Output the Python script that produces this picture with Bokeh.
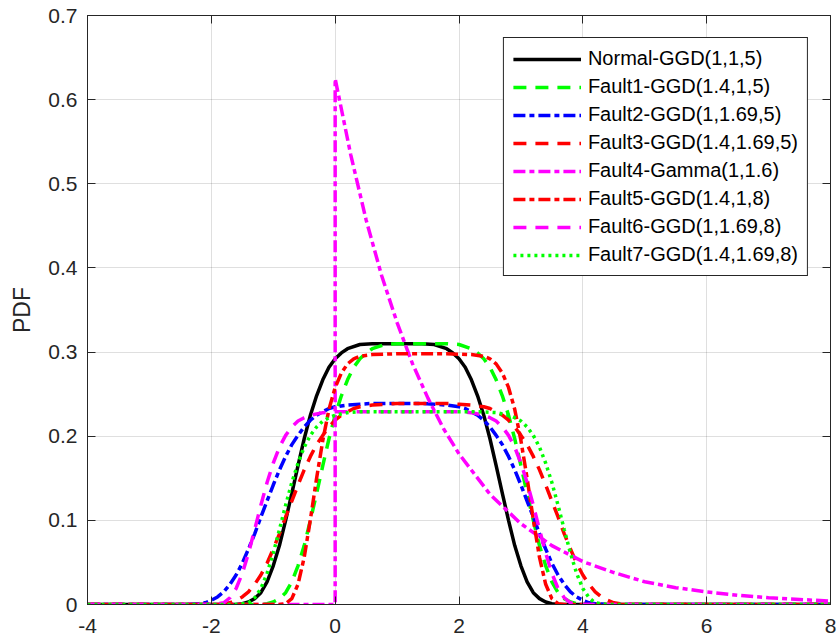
from bokeh.plotting import figure
from bokeh.models import Range1d, LinearAxis, Legend, LegendItem, FixedTicker, CustomJSTickFormatter
from bokeh.embed import file_html
from bokeh.resources import INLINE

# ---- tick definitions ----
x_ticks = [-4, -2, 0, 2, 4, 6, 8]
x_tick_labels = ["-4", "-2", "0", "2", "4", "6", "8"]
y_ticks = [0, 0.1, 0.2, 0.3, 0.4, 0.5, 0.6, 0.7]
y_tick_labels = ["0", "0.1", "0.2", "0.3", "0.4", "0.5", "0.6", "0.7"]

# ---- series ----
normal_x = [-4, -1.6, -1.5, -1.4, -1.3, -1.2, -1.1, -1.0, -0.9, -0.8, -0.7, -0.6, -0.5, -0.4, -0.3, -0.2, -0.1, 0.0,
            0.1, 0.2, 0.4, 0.6, 1.0, 1.4, 1.6, 1.8, 1.9, 2.0, 2.1, 2.2, 2.3, 2.4, 2.5, 2.6, 2.7, 2.8, 2.9, 3.0,
            3.1, 3.2, 3.3, 3.4, 3.5, 3.6, 8]
normal_y = [0, 0.000, 0.001, 0.003, 0.007, 0.014, 0.027, 0.046, 0.070, 0.100, 0.132, 0.165, 0.197, 0.225, 0.248, 0.267,
            0.282, 0.292, 0.299, 0.304, 0.309, 0.310, 0.310, 0.310, 0.309, 0.304, 0.299, 0.292, 0.282, 0.267, 0.248,
            0.225, 0.197, 0.165, 0.132, 0.100, 0.070, 0.046, 0.027, 0.014, 0.007, 0.003, 0.001, 0.000, 0]

fault1_x = [-4, -1.2, -1.1, -1.0, -0.9, -0.8, -0.7, -0.6, -0.5, -0.4, -0.3, -0.2, -0.1, 0.0, 0.1, 0.2, 0.3, 0.4,
            0.5, 0.6, 0.8, 1.0, 1.4, 1.8, 2.0, 2.2, 2.3, 2.4, 2.5, 2.6, 2.7, 2.8, 2.9, 3.0, 3.1, 3.2, 3.3, 3.4,
            3.5, 3.6, 3.7, 3.8, 3.9, 4.0, 8]
fault1_y = [0, 0.000, 0.001, 0.003, 0.007, 0.014, 0.027, 0.046, 0.070, 0.100, 0.132, 0.165, 0.197, 0.225, 0.248, 0.267,
            0.282, 0.292, 0.299, 0.304, 0.309, 0.310, 0.310, 0.310, 0.309, 0.304, 0.299, 0.292, 0.282, 0.267, 0.248,
            0.225, 0.197, 0.165, 0.132, 0.100, 0.070, 0.046, 0.027, 0.014, 0.007, 0.003, 0.001, 0.000, 0]

fault2_x = [-4, -2.4, -2.2, -2.1, -2.0, -1.9, -1.8, -1.7, -1.6, -1.5, -1.4, -1.3, -1.2, -1.1, -1.0, -0.9, -0.8, -0.7,
            -0.6, -0.5, -0.4, -0.3, -0.2, -0.1, 0.0, 0.2, 0.4, 0.6, 1.0, 1.4, 1.6, 1.8, 2.0, 2.1, 2.2, 2.3, 2.4,
            2.5, 2.6, 2.7, 2.8, 2.9, 3.0, 3.1, 3.2, 3.3, 3.4, 3.5, 3.6, 3.7, 3.8, 3.9, 4.0, 4.1, 4.2, 4.4, 8]
fault2_y = [0, 0.000, 0.001, 0.002, 0.005, 0.009, 0.015, 0.024, 0.035, 0.049, 0.066, 0.084, 0.104, 0.123, 0.142, 0.160,
            0.176, 0.190, 0.201, 0.211, 0.219, 0.225, 0.229, 0.233, 0.235, 0.237, 0.238, 0.239, 0.239, 0.239, 0.238,
            0.237, 0.235, 0.233, 0.229, 0.225, 0.219, 0.211, 0.201, 0.190, 0.176, 0.160, 0.142, 0.123, 0.104, 0.084,
            0.066, 0.049, 0.035, 0.024, 0.015, 0.009, 0.005, 0.002, 0.001, 0.000, 0]

fault3_x = [-4, -2.0, -1.8, -1.7, -1.6, -1.5, -1.4, -1.3, -1.2, -1.1, -1.0, -0.9, -0.8, -0.7, -0.6, -0.5, -0.4, -0.3,
            -0.2, -0.1, 0.0, 0.1, 0.2, 0.3, 0.4, 0.6, 0.8, 1.0, 1.4, 1.8, 2.0, 2.2, 2.4, 2.5, 2.6, 2.7, 2.8, 2.9,
            3.0, 3.1, 3.2, 3.3, 3.4, 3.5, 3.6, 3.7, 3.8, 3.9, 4.0, 4.1, 4.2, 4.3, 4.4, 4.5, 4.6, 4.8, 8]
fault3_y = [0, 0.000, 0.001, 0.002, 0.005, 0.009, 0.015, 0.024, 0.035, 0.049, 0.066, 0.084, 0.104, 0.123, 0.142, 0.160,
            0.176, 0.190, 0.201, 0.211, 0.219, 0.225, 0.229, 0.233, 0.235, 0.237, 0.238, 0.239, 0.239, 0.239, 0.238,
            0.237, 0.235, 0.233, 0.229, 0.225, 0.219, 0.211, 0.201, 0.190, 0.176, 0.160, 0.142, 0.123, 0.104, 0.084,
            0.066, 0.049, 0.035, 0.024, 0.015, 0.009, 0.005, 0.002, 0.001, 0.000, 0]

fault4_x = [-4, 0, 0, 0.25, 0.5, 0.75, 1.0, 1.25, 1.5, 1.75, 2.0, 2.5, 3.0, 3.5, 4.0, 4.5, 5.0, 5.5, 6.0, 6.5, 7.0,
            7.5, 8.0]
fault4_y = [0, 0, 0.625, 0.535, 0.457, 0.391, 0.335, 0.286, 0.245, 0.209, 0.179, 0.131, 0.096, 0.070, 0.051, 0.038,
            0.027, 0.020, 0.015, 0.011, 0.008, 0.006, 0.004]

fault5_x = [-4, -0.9, -0.8, -0.7, -0.6, -0.5, -0.4, -0.3, -0.2, -0.1, 0.0, 0.1, 0.2, 0.3, 0.4, 0.6, 1.0, 1.4, 1.8,
            2.2, 2.4, 2.5, 2.6, 2.7, 2.8, 2.9, 3.0, 3.1, 3.2, 3.3, 3.4, 3.5, 3.6, 3.7, 8]
fault5_y = [0, 0.000, 0.001, 0.007, 0.024, 0.056, 0.101, 0.150, 0.195, 0.232, 0.258, 0.275, 0.286, 0.292, 0.295, 0.297,
            0.298, 0.298, 0.298, 0.297, 0.295, 0.292, 0.286, 0.275, 0.258, 0.232, 0.195, 0.150, 0.101, 0.056, 0.024,
            0.007, 0.001, 0.000, 0]

fault6_x = [-4, -2.0, -1.9, -1.8, -1.7, -1.6, -1.5, -1.4, -1.3, -1.2, -1.1, -1.0, -0.9, -0.8, -0.7, -0.6, -0.5, -0.4,
            -0.2, 0.0, 0.4, 1.0, 1.6, 2.0, 2.2, 2.4, 2.5, 2.6, 2.7, 2.8, 2.9, 3.0, 3.1, 3.2, 3.3, 3.4, 3.5, 3.6,
            3.7, 3.8, 3.9, 4.0, 8]
fault6_y = [0, 0.000, 0.001, 0.002, 0.008, 0.019, 0.037, 0.061, 0.089, 0.118, 0.145, 0.168, 0.187, 0.201, 0.211, 0.218,
            0.222, 0.225, 0.228, 0.229, 0.229, 0.229, 0.229, 0.229, 0.228, 0.225, 0.222, 0.218, 0.211, 0.201, 0.187,
            0.168, 0.145, 0.118, 0.089, 0.061, 0.037, 0.019, 0.008, 0.002, 0.001, 0.000, 0]

fault7_x = [-4, -1.6, -1.5, -1.4, -1.3, -1.2, -1.1, -1.0, -0.9, -0.8, -0.7, -0.6, -0.5, -0.4, -0.3, -0.2, -0.1, 0.0,
            0.2, 0.4, 0.8, 1.4, 2.0, 2.4, 2.6, 2.8, 2.9, 3.0, 3.1, 3.2, 3.3, 3.4, 3.5, 3.6, 3.7, 3.8, 3.9, 4.0,
            4.1, 4.2, 4.3, 4.4, 8]
fault7_y = [0, 0.000, 0.001, 0.002, 0.008, 0.019, 0.037, 0.061, 0.089, 0.118, 0.145, 0.168, 0.187, 0.201, 0.211, 0.218,
            0.222, 0.225, 0.228, 0.229, 0.229, 0.229, 0.229, 0.229, 0.228, 0.225, 0.222, 0.218, 0.211, 0.201, 0.187,
            0.168, 0.145, 0.118, 0.089, 0.061, 0.037, 0.019, 0.008, 0.002, 0.001, 0.000, 0]

series_labels = ["Normal-GGD(1,1,5)", "Fault1-GGD(1.4,1,5)", "Fault2-GGD(1,1.69,5)", "Fault3-GGD(1.4,1.69,5)",
                 "Fault4-Gamma(1,1.6)", "Fault5-GGD(1.4,1,8)", "Fault6-GGD(1,1.69,8)", "Fault7-GGD(1.4,1.69,8)"]
series_x = [normal_x, fault1_x, fault2_x, fault3_x, fault4_x, fault5_x, fault6_x, fault7_x]
series_y = [normal_y, fault1_y, fault2_y, fault3_y, fault4_y, fault5_y, fault6_y, fault7_y]
series_colors = ["#000000", "#00ff00", "#0000ff", "#ff0000", "#ff00ff", "#ff0000", "#ff00ff", "#00ff00"]
DASH = "13 9"
DASHDOT = "12 4 5 4"
DOT = "3 4"
series_dash = ["solid", DASH, DASHDOT, DASH, DASHDOT, DASHDOT, DASH, DOT]

FONT = "Liberation Sans"
AX = "#262626"

p = figure(width=838, height=640, x_range=Range1d(-4, 8), y_range=Range1d(0, 0.7),
           output_backend="svg", toolbar_location=None,
           min_border_left=87, min_border_right=8, min_border_top=15, min_border_bottom=36,
           background_fill_color="white", border_fill_color="white")
p.outline_line_color = AX
p.outline_line_width = 1

bottom = p.xaxis[0]
left = p.yaxis[0]

bottom.ticker = FixedTicker(ticks=x_ticks)
bottom.major_label_overrides = dict(zip(x_ticks, x_tick_labels))
left.ticker = FixedTicker(ticks=y_ticks)
left.major_label_overrides = dict(zip(y_ticks, y_tick_labels))
left.axis_label = "PDF"

for ax in (bottom, left):
    ax.major_tick_in = 8
    ax.major_tick_out = 0
    ax.minor_tick_line_color = None
    ax.axis_line_color = AX
    ax.major_tick_line_color = AX
    ax.major_label_text_color = AX
    ax.major_label_text_font = FONT
    ax.major_label_text_font_size = "21px"
    ax.axis_label_text_font = FONT
    ax.axis_label_text_font_size = "23px"
    ax.axis_label_text_font_style = "normal"
    ax.axis_label_text_color = AX
bottom.major_label_standoff = 14
left.major_label_standoff = 10
left.axis_label_standoff = 10

blank = "return ''"
top = LinearAxis(ticker=FixedTicker(ticks=x_ticks), formatter=CustomJSTickFormatter(code=blank),
                 major_tick_in=8, major_tick_out=0, minor_tick_line_color=None,
                 axis_line_color=AX, major_tick_line_color=AX,
                 major_label_standoff=0, major_label_text_font_size="1px")
right = LinearAxis(ticker=FixedTicker(ticks=y_ticks), formatter=CustomJSTickFormatter(code=blank),
                   major_tick_in=8, major_tick_out=0, minor_tick_line_color=None,
                   axis_line_color=AX, major_tick_line_color=AX,
                   major_label_standoff=0, major_label_text_font_size="1px")
p.add_layout(top, "above")
p.add_layout(right, "right")

p.xgrid.ticker = FixedTicker(ticks=x_ticks)
p.ygrid.ticker = FixedTicker(ticks=y_ticks)
p.grid.grid_line_color = AX
p.grid.grid_line_alpha = 0.15
p.grid.grid_line_width = 1

items = []
for lbl, xs, ys, c, d in zip(series_labels, series_x, series_y, series_colors, series_dash):
    r = p.line(xs, ys, line_color=c, line_width=3.5, line_dash=d)
    items.append(LegendItem(label=lbl, renderers=[r]))

legend = Legend(items=items, location="top_right", margin=22,
                label_text_font=FONT, label_text_font_size="20px", label_text_color="#000000",
                glyph_width=68, glyph_height=20, label_height=20, label_standoff=7,
                padding=9, spacing=5,
                border_line_color=AX, border_line_width=1, border_line_alpha=1,
                background_fill_color="white", background_fill_alpha=1)
p.add_layout(legend)

open("out.html", "w").write(file_html(p, INLINE))
